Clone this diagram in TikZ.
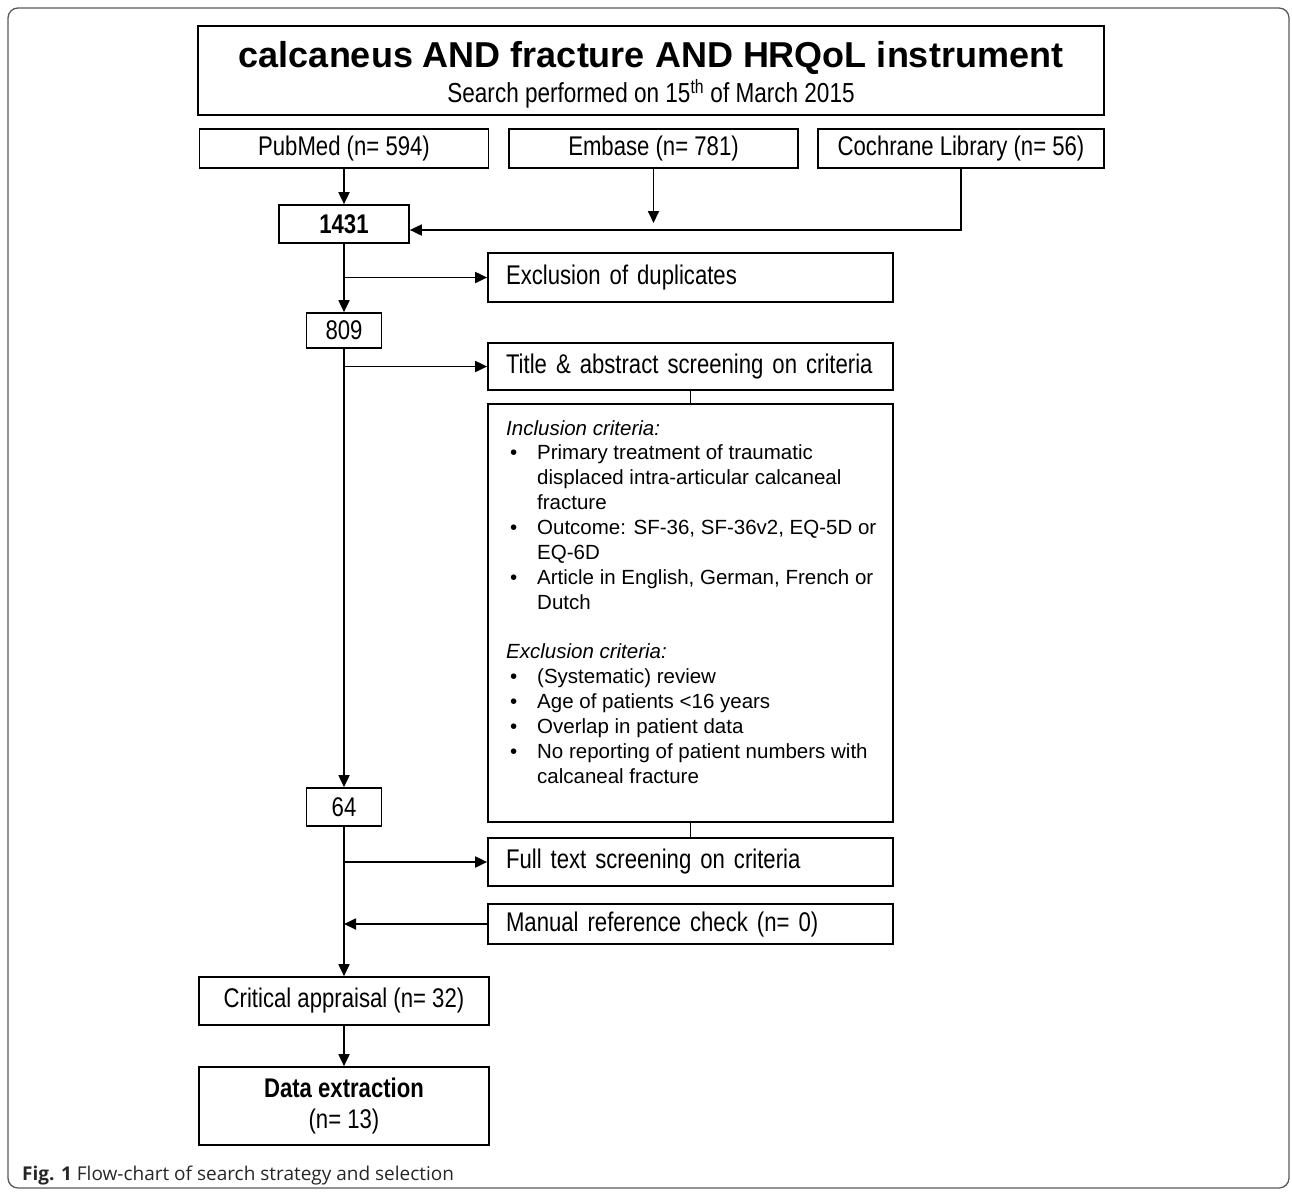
\documentclass[tikz,border=0pt]{standalone}
\usepackage{fontspec}
\setmainfont{Liberation Sans}
\newfontfamily\narrowfont[FakeStretch=0.82]{Liberation Sans}
\newfontfamily\capfont{Open Sans}
\usetikzlibrary{arrows.meta,calc}
\newcommand\bl{\makebox[31pt][l]{\hspace{4pt}•}}
\newcommand\ind{\hspace*{31pt}}
\begin{document}
\begin{tikzpicture}[x=1pt,y=-1pt,
  bx/.style={draw, line width=1.7pt, inner sep=0pt, align=center,
    font=\narrowfont\fontsize{27}{30}\selectfont},
  lbx/.style={draw, line width=1.7pt, inner ysep=0pt, inner xsep=18pt,
    text width=369pt, align=left, font=\narrowfont\fontsize{27}{30}\selectfont},
  arr/.style={line width=1.8pt, -{Triangle[length=12pt,width=11pt]}},
  ln/.style={line width=1.8pt},
]
\useasboundingbox (0,0) rectangle (1292,1192);
\draw[line width=1.3pt, black!65, rounded corners=10pt] (8,8) rectangle (1289,1188);

% title
\node[bx, minimum width=906pt, minimum height=89pt] (title) at (651,70.5) {};
\node[font=\bfseries\fontsize{36}{36}\selectfont] (t1) at (651,58) {calcaneus AND fracture AND HRQoL instrument};
\node[font=\narrowfont\fontsize{27.5}{27.5}\selectfont] (t2) at (651,94) {Search performed on 15\textsuperscript{th} of March 2015};

% sources
\node[bx, minimum width=289pt, minimum height=39pt] (pub) at (344,148.5) {PubMed (n= 594)};
\node[bx, minimum width=289pt, minimum height=39pt] (emb) at (653.5,148.5) {Embase (n= 781)};
\node[bx, minimum width=286pt, minimum height=39pt] (coch) at (961,148.5) {Cochrane Library (n= 56)};

\node[bx, minimum width=130pt, minimum height=38pt, font=\narrowfont\bfseries\fontsize{27}{30}\selectfont] (n1431) at (344,224) {1431};
\node[lbx, minimum height=49pt] (excl) at (690.5,277.5) {Exclusion of duplicates};
\node[bx, minimum width=75pt, minimum height=35pt] (n809) at (344,330.5) {809};
\node[lbx, minimum height=47pt] (tas) at (690.5,366.5) {Title \& abstract screening on criteria};
\node[draw, line width=1.7pt, minimum width=405pt, minimum height=418pt] (crit) at (690.5,613) {};
\node[anchor=north west, inner sep=0pt, align=left, font=\fontsize{20.5}{24.86}\selectfont] (crittext) at (506,420) {%
\textit{Inclusion criteria:}\\
\bl Primary treatment of traumatic\\
\ind displaced intra-articular calcaneal\\
\ind fracture\\
\bl Outcome: SF-36, SF-36v2, EQ-5D or\\
\ind EQ-6D\\
\bl Article in English, German, French or\\
\ind Dutch\\[24.86pt]
\textit{Exclusion criteria:}\\
\bl (Systematic) review\\
\bl Age of patients <16 years\\
\bl Overlap in patient data\\
\bl No reporting of patient numbers with\\
\ind calcaneal fracture};
\node[bx, minimum width=75pt, minimum height=38pt] (n64) at (344,807) {64};
\node[lbx, minimum height=48pt] (full) at (690.5,862) {Full text screening on criteria};
\node[lbx, minimum height=40pt] (man) at (690.5,924) {Manual reference check (n= 0)};
\node[bx, minimum width=290pt, minimum height=48pt] (appr) at (344,1001) {Critical appraisal (n= 32)};
\node[bx, minimum width=290pt, minimum height=78pt] (data) at (344,1106) {{\bfseries Data extraction}\\[1pt](n= 13)};

\node[anchor=base west, inner sep=0pt, font=\capfont\fontsize{19}{23}\selectfont, text=black!85] (cap) at (22,1180) {\textbf{Fig. 1} Flow-chart of search strategy and selection};

% connectors
\coordinate (embend) at (653.5,223);
\coordinate (in1431) at ($(n1431.east)+(0,6)$);
\draw[arr] (pub.south) -- (n1431.north);
\draw[arr] (emb.south) -- (embend);
\draw[arr] (coch.south) |- (in1431);
\draw[arr] (n1431.south) -- (n809.north);
\draw[arr] (n1431.south |- excl.west) -- (excl.west);
\draw[arr] (n809.south) -- (n64.north);
\draw[arr] (n809.south |- tas.west) -- (tas.west);
\draw[ln] (tas.south) -- (crit.north);
\draw[ln] (crit.south) -- (full.north);
\draw[arr] (n64.south) -- (appr.north);
\draw[arr] (n64.south |- full.west) -- (full.west);
\draw[arr] (man.west) -- (n64.south |- man.west);
\draw[arr] (appr.south) -- (data.north);
\end{tikzpicture}
\end{document}
